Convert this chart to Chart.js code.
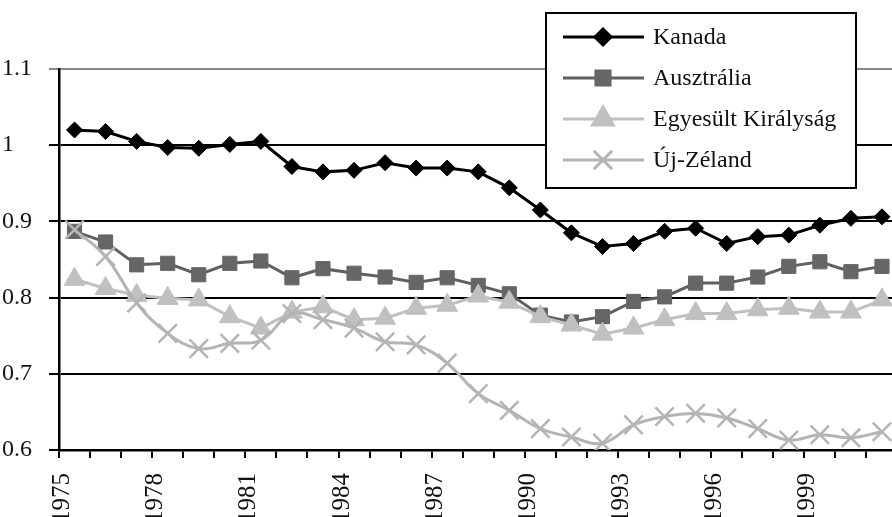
<!DOCTYPE html>
<html>
<head>
<meta charset="utf-8">
<script src="https://cdn.jsdelivr.net/npm/chart.js@4"></script>
<style>
    html, body { margin: 0; padding: 0; background: #fff; overflow: hidden; }
    /* plot runs past the right edge, as in the cropped original */
    #wrap { width: 913px; height: 517px; position: relative; }
</style>
</head>
<body>
<div id="wrap"><canvas id="chart"></canvas></div>
<script>
const years = ["1975", "1976", "1977", "1978", "1979", "1980", "1981", "1982", "1983", "1984",
    "1985", "1986", "1987", "1988", "1989", "1990", "1991", "1992", "1993", "1994",
    "1995", "1996", "1997", "1998", "1999", "2000", "2001"];

const kanada = [1.020, 1.018, 1.005, 0.997, 0.996, 1.001, 1.005, 0.972, 0.965, 0.967,
    0.977, 0.970, 0.970, 0.965, 0.944, 0.915, 0.885, 0.867, 0.871, 0.887,
    0.891, 0.871, 0.880, 0.882, 0.895, 0.904, 0.906];

const ausztralia = [0.887, 0.873, 0.843, 0.845, 0.830, 0.845, 0.848, 0.826, 0.838, 0.832,
    0.827, 0.820, 0.826, 0.816, 0.805, 0.777, 0.768, 0.775, 0.795, 0.801,
    0.819, 0.819, 0.827, 0.841, 0.847, 0.834, 0.841];

const egyesult = [0.824, 0.812, 0.803, 0.799, 0.797, 0.775, 0.760, 0.781, 0.788, 0.771,
    0.773, 0.786, 0.790, 0.802, 0.794, 0.775, 0.764, 0.752, 0.760, 0.771,
    0.779, 0.779, 0.784, 0.786, 0.781, 0.781, 0.797];

const ujZeland = [0.889, 0.854, 0.793, 0.753, 0.733, 0.740, 0.744, 0.779, 0.771, 0.760,
    0.742, 0.738, 0.714, 0.674, 0.652, 0.628, 0.617, 0.609, 0.633, 0.644,
    0.648, 0.642, 0.628, 0.613, 0.620, 0.616, 0.624];

const yTicks = [0.6, 0.7, 0.8, 0.9, 1, 1.1];

const serif = "'Liberation Serif', 'Times New Roman', serif";

// legend box drawn by hand, like the Excel one, over the plot
const boxLegend = {
    id: 'boxLegend',
    afterDraw(chart) {
        const ctx = chart.ctx;
        ctx.save();
        ctx.fillStyle = '#fff';
        ctx.fillRect(546, 13, 310, 175);
        ctx.strokeStyle = '#000';
        ctx.lineWidth = 2;
        ctx.strokeRect(546, 13, 310, 175);

        ctx.font = "24px " + serif;
        ctx.textBaseline = 'middle';
        ctx.textAlign = 'left';
        chart.data.datasets.forEach((ds, i) => {
            const y = 37 + i * 41;
            ctx.strokeStyle = ds.borderColor;
            ctx.lineWidth = ds.borderWidth;
            ctx.beginPath();
            ctx.moveTo(563, y);
            ctx.lineTo(644, y);
            ctx.stroke();
            ctx.fillStyle = ds.pointBackgroundColor;
            ctx.strokeStyle = ds.pointBorderColor;
            Chart.helpers.drawPoint(ctx, {
                pointStyle: ds.pointStyle,
                radius: ds.pointRadius,
                rotation: 0,
                borderWidth: ds.pointBorderWidth
            }, 603, y);
            ctx.fillStyle = '#111';
            ctx.fillText(ds.label, 653, y + 1);
        });
        ctx.restore();
    }
};

const ctx = document.getElementById('chart');

new Chart(ctx, {
    type: 'line',
    data: {
        labels: years,
        datasets: [
            {
                label: 'Kanada',
                data: kanada,
                borderColor: '#000',
                borderWidth: 3,
                pointStyle: 'rectRot',
                pointRadius: 8,
                pointBackgroundColor: '#000',
                pointBorderColor: '#000',
                pointBorderWidth: 1,
                tension: 0,
                order: 4
            },
            {
                label: 'Ausztrália',
                data: ausztralia,
                borderColor: '#606060',
                borderWidth: 3,
                pointStyle: 'rect',
                pointRadius: 10,
                pointBackgroundColor: '#666',
                pointBorderColor: '#666',
                pointBorderWidth: 1,
                tension: 0,
                order: 3
            },
            {
                label: 'Egyesült Királyság',
                data: egyesult,
                borderColor: '#c0c0c0',
                borderWidth: 3,
                pointStyle: 'triangle',
                pointRadius: 12,
                pointBackgroundColor: '#c0c0c0',
                pointBorderColor: '#c0c0c0',
                pointBorderWidth: 1,
                tension: 0,
                order: 2
            },
            {
                label: 'Új-Zéland',
                data: ujZeland,
                borderColor: '#b4b4b4',
                borderWidth: 3,
                pointStyle: 'crossRot',
                pointRadius: 13,
                pointBackgroundColor: '#b4b4b4',
                pointBorderColor: '#b4b4b4',
                pointBorderWidth: 2.5,
                tension: 0.4,
                order: 1
            }
        ]
    },
    options: {
        responsive: true,
        maintainAspectRatio: false,
        animation: false,
        layout: {
            padding: { top: 69, left: 2, right: 0, bottom: 0 }
        },
        plugins: {
            legend: { display: false },
            tooltip: { enabled: false }
        },
        scales: {
            x: {
                type: 'category',
                offset: true,
                afterFit: (scale) => {
                    scale.height = 67;
                    scale.paddingLeft = 0;
                    scale.paddingRight = 0;
                },
                grid: {
                    offset: true,
                    drawOnChartArea: false,
                    drawTicks: true,
                    tickLength: 8,
                    color: '#000',
                    lineWidth: 2
                },
                border: { display: true, color: '#000', width: 2.5 },
                ticks: {
                    autoSkip: false,
                    maxRotation: 90,
                    minRotation: 90,
                    labelOffset: -12,
                    padding: 15,
                    color: '#111',
                    font: { family: serif, size: 25 },
                    callback: function (val, i) {
                        return i % 3 === 0 ? years[i] : '';
                    }
                }
            },
            y: {
                min: 0.6,
                max: 1.1,
                afterFit: (scale) => { scale.width = 57; },
                afterBuildTicks: (scale) => {
                    scale.ticks = yTicks.map((v) => ({ value: v }));
                },
                grid: {
                    color: (c) => (c.tick && c.tick.value > 1.05) ? '#888' : '#000',
                    lineWidth: 2,
                    tickLength: 10
                },
                border: { display: true, color: '#000', width: 2.5 },
                ticks: {
                    crossAlign: 'far',
                    color: '#111',
                    font: { family: serif, size: 24 },
                    callback: (v) => String(Math.round(v * 10) / 10)
                }
            }
        }
    },
    plugins: [boxLegend]
});
</script>
</body>
</html>
